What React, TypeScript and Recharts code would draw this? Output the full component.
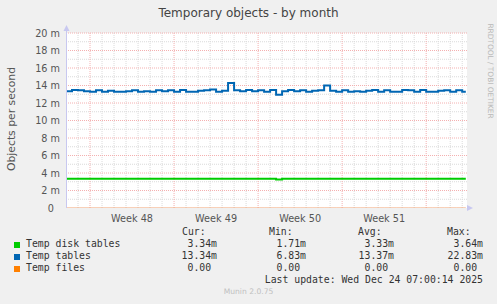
import React from "react";
import {
  LineChart,
  Line,
  XAxis,
  YAxis,
  ReferenceLine,
  ReferenceArea,
} from "recharts";

// data (x = days since start of graph window)
const tempTables = [
  13.35, 13.5, 13.45, 13.35, 13.3, 13.45, 13.3, 13.4, 13.3, 13.3, 13.35, 13.45,
  13.3, 13.35, 13.3, 13.45, 13.35, 13.45, 13.3, 13.5, 13.3, 13.3, 13.4, 13.45,
  13.55, 13.3, 13.4, 14.3, 13.45, 13.35, 13.5, 13.35, 13.45, 13.3, 13.5, 12.95,
  13.35, 13.5, 13.35, 13.45, 13.3, 13.4, 13.45, 14.0, 13.4, 13.3, 13.45, 13.3,
  13.35, 13.3, 13.4, 13.5, 13.3, 13.45, 13.3, 13.3, 13.5, 13.45, 13.3, 13.5,
  13.3, 13.3, 13.4, 13.45, 13.3, 13.45, 13.3, 13.3,
];
const tempDiskTables = [
  3.34, 3.34, 3.33, 3.34, 3.33, 3.34, 3.33, 3.33, 3.34, 3.33, 3.33, 3.34,
  3.33, 3.33, 3.34, 3.33, 3.33, 3.34, 3.33, 3.33, 3.34, 3.33, 3.33, 3.34,
  3.33, 3.33, 3.34, 3.33, 3.33, 3.34, 3.33, 3.33, 3.34, 3.33, 3.33, 3.27,
  3.33, 3.34, 3.33, 3.33, 3.34, 3.33, 3.33, 3.34, 3.33, 3.33, 3.34, 3.33,
  3.33, 3.34, 3.33, 3.33, 3.34, 3.33, 3.33, 3.34, 3.33, 3.33, 3.34, 3.33,
  3.33, 3.34, 3.33, 3.33, 3.34, 3.33, 3.34, 3.34,
];
const tempFiles = tempTables.map(() => 0);
const days = tempTables.map((_, i) => (i < 67 ? i / 2 : 33.3));

const weekLabels = ["Week 48", "Week 49", "Week 50", "Week 51"];
const weekLabelDays = [5.5, 12.5, 19.5, 26.5];
const weekStartDays = [2, 9, 16, 23, 30];
const dayGridDays = [
  1, 3, 4, 5, 6, 7, 8, 10, 11, 12, 13, 14, 15, 17, 18, 19, 20, 21, 22, 24, 25,
  26, 27, 28, 29, 31, 32, 33,
];
const yMajor = [2, 4, 6, 8, 10, 12, 14, 16, 18, 20];
const yMinor = [1, 3, 5, 7, 9, 11, 13, 15, 17, 19];
const yTicks = [0, 2, 4, 6, 8, 10, 12, 14, 16, 18, 20];

const legendRows = [
  { name: "Temp disk tables", color: "#00cc00", cur: "3.34m", min: "1.71m", avg: "3.33m", max: "3.64m" },
  { name: "Temp tables", color: "#0066b3", cur: "13.34m", min: "6.83m", avg: "13.37m", max: "22.83m" },
  { name: "Temp files", color: "#ff8000", cur: "0.00 ", min: "0.00 ", avg: "0.00 ", max: "0.00 " },
];

const chartData = days.map((day, i) => ({
  day,
  disk: tempDiskTables[i],
  tables: tempTables[i],
  files: tempFiles[i],
}));

const sans = "'DejaVu Sans', Verdana, sans-serif";
const mono = "'DejaVu Sans Mono', monospace";
const gridGray = "#dadada";
const gridRed = "#f4b0b0";

const YTick = (props: any) => {
  const { x, y, payload } = props;
  const zero = payload.value === 0;
  return (
    <text
      x={zero ? x - 6 : x}
      y={y}
      dy={3.5}
      textAnchor="end"
      fontFamily={sans}
      fontSize={9.7}
      fill="#555"
    >
      {zero ? "0" : `${payload.value} m`}
    </text>
  );
};

const abs = (left: number, top: number): React.CSSProperties => ({
  position: "absolute",
  left,
  top,
  whiteSpace: "pre",
  lineHeight: "12px",
});

const App: React.FC = () => {
  return (
    <div
      style={{
        position: "absolute",
        left: 0,
        top: 0,
        width: 497,
        height: 304,
        background: "#f0f0f0",
        overflow: "hidden",
      }}
    >
      <LineChart
        width={497}
        height={304}
        data={chartData}
        margin={{ top: 33, right: 30, bottom: 76, left: 6 }}
      >
        <XAxis
          dataKey="day"
          type="number"
          domain={[0, 33.4]}
          ticks={weekLabelDays}
          interval={0}
          tickFormatter={(_v: number, i: number) => weekLabels[i]}
          axisLine={false}
          tickLine={false}
          tickSize={5}
          tickMargin={2}
          height={20}
          tick={{ fontFamily: sans, fontSize: 9.7, fill: "#555" }}
          allowDataOverflow
        />
        <YAxis
          type="number"
          domain={[0, 20]}
          ticks={yTicks}
          interval={0}
          width={60}
          axisLine={false}
          tickLine={false}
          tickSize={4}
          tickMargin={2}
          tick={<YTick />}
          allowDataOverflow
        />
        <ReferenceArea x1={0} x2={33.4} y1={0} y2={20} fill="#ffffff" fillOpacity={1} stroke="none" />
        {dayGridDays.map((d) => (
          <ReferenceLine key={`dg-${d}`} x={d} stroke={gridGray} strokeDasharray="1 1" />
        ))}
        {yMinor.map((v) => (
          <ReferenceLine key={`ym-${v}`} y={v} stroke={gridGray} strokeDasharray="1 1" />
        ))}
        {yMajor.map((v) => (
          <ReferenceLine key={`yM-${v}`} y={v} stroke={gridRed} strokeDasharray="1 1" />
        ))}
        {weekStartDays.map((d) => (
          <ReferenceLine key={`wk-${d}`} x={d} stroke={gridRed} strokeDasharray="1 1" />
        ))}
        <Line
          dataKey="disk"
          type="stepAfter"
          stroke="#00cc00"
          strokeWidth={2}
          dot={false}
          isAnimationActive={false}
        />
        <Line
          dataKey="tables"
          type="stepAfter"
          stroke="#0066b3"
          strokeWidth={2}
          dot={false}
          isAnimationActive={false}
        />
        <Line
          dataKey="files"
          type="stepAfter"
          stroke="#f0a070"
          strokeWidth={1}
          dot={false}
          isAnimationActive={false}
        />
      </LineChart>

      {/* axis arrows */}
      <svg
        width={497}
        height={304}
        style={{ position: "absolute", left: 0, top: 0, pointerEvents: "none" }}
      >
        <line x1={66.5} y1={208} x2={66.5} y2={28} stroke="#c8c8f0" strokeWidth={1} />
        <polygon points="63.5,31 69.5,31 66.5,25" fill="#c8c8f0" />
        <polygon points="467,205 467,211 473,208" fill="#c8c8f0" />
      </svg>

      <div
        style={{
          ...abs(0, 6),
          width: 497,
          textAlign: "center",
          fontFamily: sans,
          fontSize: 12,
          color: "#444",
          lineHeight: "14px",
        }}
      >
        Temporary objects - by month
      </div>
      <div
        style={{
          position: "absolute",
          left: 10.5,
          top: 119,
          transform: "translate(-50%, -50%) rotate(-90deg)",
          fontFamily: sans,
          fontSize: 10.8,
          color: "#555",
          whiteSpace: "pre",
        }}
      >
        Objects per second
      </div>
      <div
        style={{
          position: "absolute",
          left: 490,
          top: 71,
          transform: "translate(-50%, -50%) rotate(90deg)",
          fontFamily: sans,
          fontSize: 7.4,
          color: "#b8b8b8",
          whiteSpace: "pre",
        }}
      >
        RRDTOOL / TOBI OETIKER
      </div>

      {/* legend */}
      <div style={{ fontFamily: mono, fontSize: 9.8, color: "#333" }}>
        <div style={abs(182, 226)}>Cur:</div>
        <div style={abs(269, 226)}>Min:</div>
        <div style={abs(358, 226)}>Avg:</div>
        <div style={abs(447, 226)}>Max:</div>
        {legendRows.map((r, i) => {
          const top = 238 + i * 12;
          return (
            <React.Fragment key={r.name}>
              <div
                style={{
                  position: "absolute",
                  left: 14,
                  top: top + 3.5,
                  width: 6,
                  height: 6,
                  background: r.color,
                }}
              />
              <div style={abs(26, top)}>{r.name}</div>
              <div style={{ ...abs(0, top), width: 217, textAlign: "right" }}>{r.cur}</div>
              <div style={{ ...abs(0, top), width: 306, textAlign: "right" }}>{r.min}</div>
              <div style={{ ...abs(0, top), width: 394, textAlign: "right" }}>{r.avg}</div>
              <div style={{ ...abs(0, top), width: 483, textAlign: "right" }}>{r.max}</div>
            </React.Fragment>
          );
        })}
        <div style={{ ...abs(0, 274), width: 483, textAlign: "right" }}>
          Last update: Wed Dec 24 07:00:14 2025
        </div>
      </div>
      <div
        style={{
          ...abs(0, 287),
          width: 497,
          textAlign: "center",
          fontFamily: sans,
          fontSize: 7.6,
          color: "#c0c0c0",
          lineHeight: "10px",
        }}
      >
        Munin 2.0.75
      </div>
    </div>
  );
};

export default App;
